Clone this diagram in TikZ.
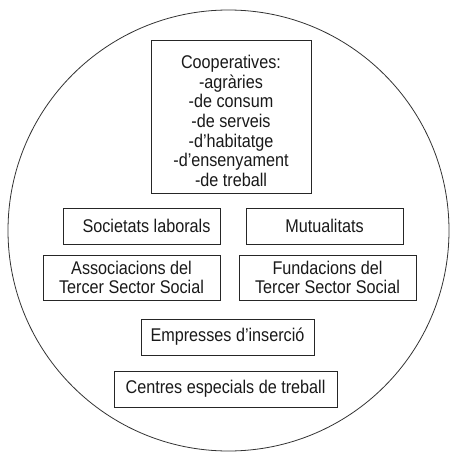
\documentclass[tikz,border=0pt]{standalone}
\usepackage{fontspec}
\setmainfont[FakeStretch=0.88]{Liberation Sans}
\tikzset{
  txt/.style={font=\fontsize{18.4}{19.6}\selectfont, text=black!90, align=center},
  box/.style={draw=black!85, line width=0.9pt, rectangle, inner sep=0pt, txt},
}
\begin{document}
\begin{tikzpicture}[x=1pt,y=-1pt]
\useasboundingbox (0,0) rectangle (450,452);
\node[draw=black!80, line width=0.8pt, circle, minimum size=441pt, inner sep=0pt] (ring) at (228.5,230.5) {};
\node[box, minimum width=160pt, minimum height=153pt,
  label={[txt, yshift=-4.5pt, inner sep=0pt]center:{Cooperatives:\\-agràries\\-de consum\\-de serveis\\-d’habitatge\\-d’ensenyament\\-de treball}}] (coop) at (231,116.5) {};
\node[box, minimum width=157pt, minimum height=36pt] (soc) at (141.5,226) {\hspace{10pt}Societats laborals};
\node[box, minimum width=157pt, minimum height=36pt] (mut) at (324.5,226) {Mutualitats};
\node[box, minimum width=177pt, minimum height=45pt] (assoc) at (131.5,277.5) {Associacions del\\Tercer Sector Social};
\node[box, minimum width=177pt, minimum height=45pt] (fund) at (327.5,277.5) {Fundacions del\\Tercer Sector Social};
\node[box, minimum width=173pt, minimum height=36pt] (emp) at (227.5,337) {Empresses d’inserció};
\node[box, minimum width=223pt, minimum height=36pt] (cent) at (225.5,389) {Centres especials de treball};
\end{tikzpicture}
\end{document}
